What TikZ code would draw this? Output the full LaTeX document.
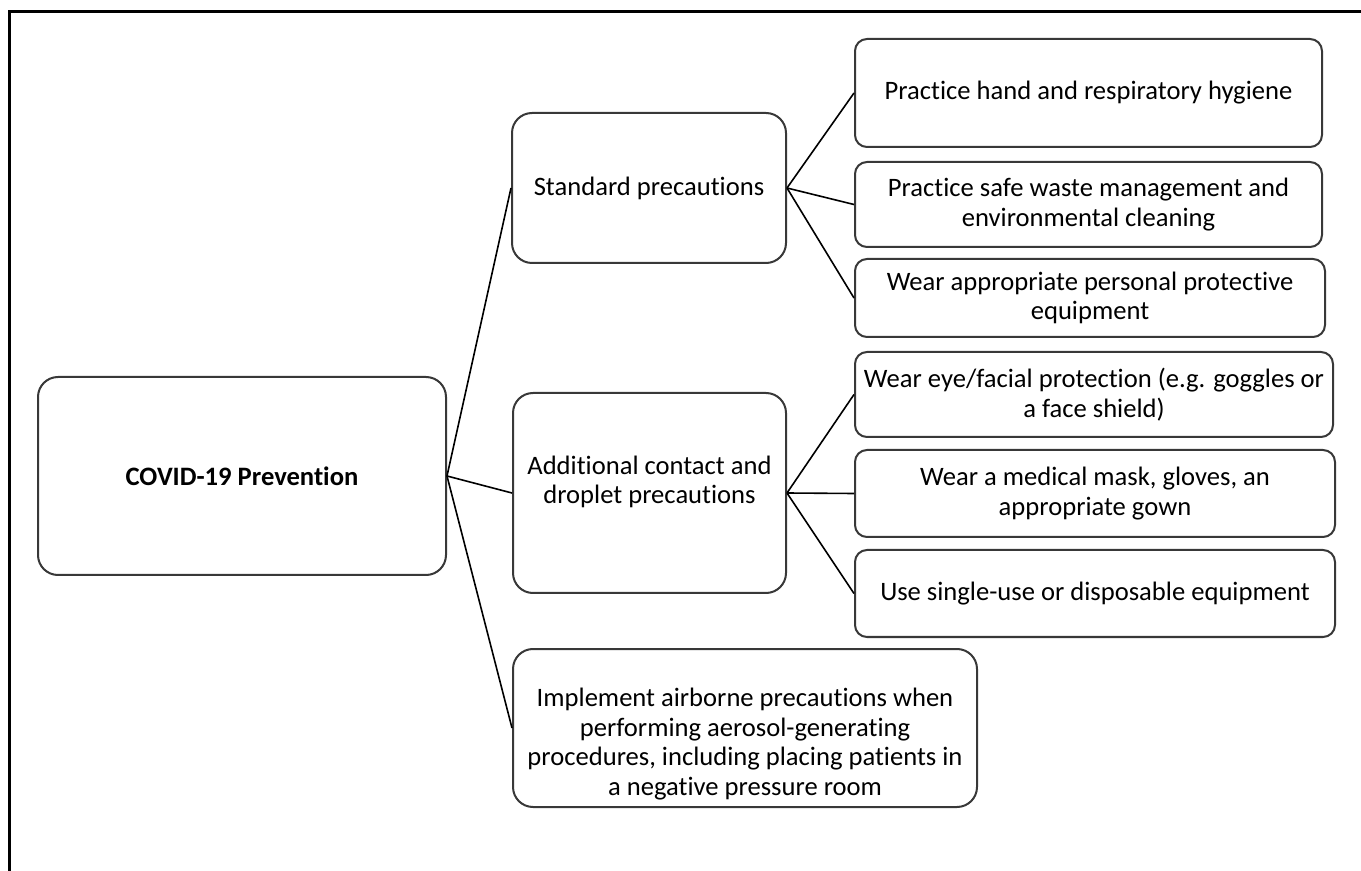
\documentclass[tikz,border=0pt]{standalone}
\usepackage{fontspec}
\setmainfont[Ligatures=NoCommon]{Carlito}

\tikzset{
    topbox/.style={draw=black!78,line width=1pt,rounded corners=10pt,inner sep=0pt,align=center},
    leafbox/.style={draw=black!78,line width=1pt,rounded corners=6pt,inner sep=0pt,align=center},
    link/.style={draw=black,line width=0.8pt}
}

\begin{document}
\begin{tikzpicture}[x=0.5pt,y=-0.5pt,font=\fontsize{13.3pt}{14.8pt}\selectfont]
        \useasboundingbox (0,0) rectangle (1361,871);
        \draw[line width=1.5pt] (9,871) -- (9,12) -- (1361,12);
        % first level
        \node[topbox,minimum width=204pt,minimum height=99pt] (covid) at (242,476) {\textbf{COVID-19 Prevention}};
        \node[topbox,minimum width=137pt,minimum height=75pt] (standard) at (649,188) {Standard precautions};
        \node[topbox,minimum width=136.5pt,minimum height=100pt] (contact) at (649.5,493) {};
        \node[align=center] (contacttxt) at (649.5,482) {Additional contact and\\droplet precautions};
        \node[topbox,minimum width=232pt,minimum height=79pt] (airborne) at (745,728) {};
        \node[align=center] (airbornetxt) at (745,744) {Implement airborne precautions when\\performing aerosol-generating\\procedures, including placing patients in\\a negative pressure room};
        % second level
        \node[leafbox,minimum width=233.5pt,minimum height=54pt] (hygiene) at (1088.5,93) {Practice hand and respiratory hygiene};
        \node[leafbox,minimum width=233.5pt,minimum height=42.5pt] (waste) at (1088.5,204.5) {Practice safe waste management and\\environmental cleaning};
        \node[leafbox,minimum width=235pt,minimum height=39pt] (ppe) at (1090,298) {Wear appropriate personal protective\\equipment};
        \node[leafbox,minimum width=239pt,minimum height=42.5pt] (eye) at (1094,394.5) {Wear eye/facial protection (e.g. goggles or\\a face shield)};
        \node[leafbox,minimum width=240pt,minimum height=43.5pt] (mask) at (1095,493.5) {Wear a medical mask, gloves, an\\appropriate gown};
        \node[leafbox,minimum width=240pt,minimum height=43.5pt] (single) at (1095,593.5) {Use single-use or disposable equipment};
        % connectors
        \foreach \n in {standard,contact,airborne}
            \draw[link] (covid.east) -- (\n.west);
        \foreach \n in {hygiene,waste,ppe}
            \draw[link] (standard.east) -- (\n.west);
        \foreach \n in {eye,mask,single}
            \draw[link] (contact.east) -- (\n.west);
    \end{tikzpicture}
\end{document}
